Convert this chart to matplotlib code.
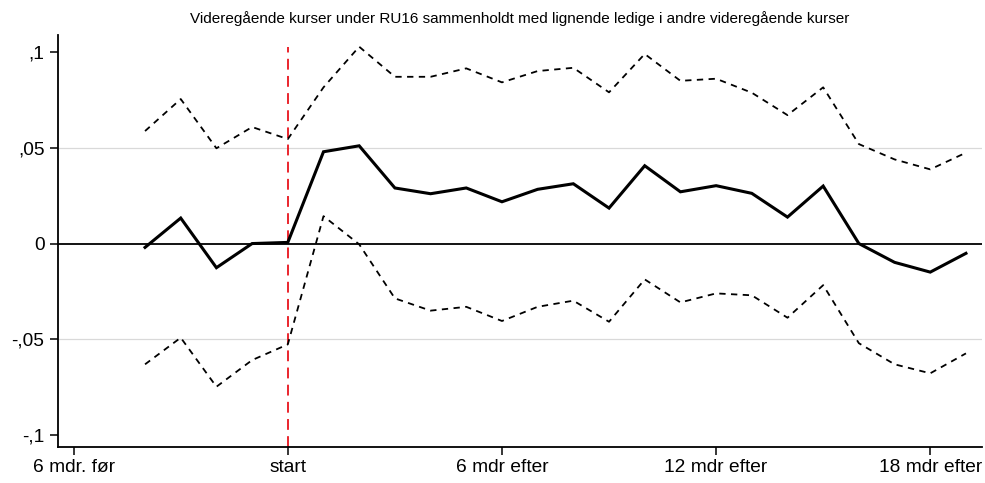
import matplotlib
matplotlib.use("Agg")
import matplotlib.pyplot as plt

months = list(range(-4, 20))
estimate = [-0.002, 0.0133, -0.0126, 0.0, 0.0006, 0.0479, 0.051, 0.029, 0.026, 0.029,
            0.0218, 0.0283, 0.0312, 0.0185, 0.0406, 0.027, 0.0302, 0.0262, 0.0138, 0.030,
            0.0, -0.0098, -0.0149, -0.0051]
upper = [0.0587, 0.0754, 0.0497, 0.0608, 0.0545, 0.0815, 0.1027, 0.087, 0.087, 0.0914,
         0.0841, 0.090, 0.0917, 0.0789, 0.0989, 0.0849, 0.086, 0.0787, 0.067, 0.0815,
         0.0519, 0.0439, 0.0387, 0.0474]
lower = [-0.063, -0.0491, -0.0747, -0.0608, -0.0526, 0.0143, -0.0004, -0.0286, -0.035, -0.033,
         -0.0404, -0.033, -0.0298, -0.0408, -0.0187, -0.0307, -0.026, -0.027, -0.0387, -0.0217,
         -0.052, -0.063, -0.0677, -0.0573]

xticks = [-6, 0, 6, 12, 18]
xticklabels = ["6 mdr. før", "start", "6 mdr efter", "12 mdr efter", "18 mdr efter"]
yticks = [-0.1, -0.05, 0, 0.05, 0.1]
yticklabels = ["-,1", "-,05", "0", ",05", ",1"]
title = "Videregående kurser under RU16 sammenholdt med lignende ledige i andre videregående kurser"

plt.rcParams['font.family'] = ['Liberation Sans', 'DejaVu Sans']

fig = plt.figure(figsize=(9.85, 4.83), dpi=100)
ax = fig.add_axes([0.0592, 0.0739, 0.9374, 0.8536])

for yv in [-0.05, 0.05]:
    ax.axhline(yv, color='#d9d9d9', lw=0.9, zorder=0)
ax.axhline(0, color='black', lw=1.3, zorder=1)
ax.axvline(0, color='#e8141c', lw=1.3, ls=(0, (6, 3.5)), ymax=0.97, zorder=2)

ax.plot(months, upper, color='black', lw=1.3, ls=(0, (3.5, 3)), zorder=3)
ax.plot(months, lower, color='black', lw=1.3, ls=(0, (3.5, 3)), zorder=3)
ax.plot(months, estimate, color='black', lw=2.2, zorder=4, solid_joinstyle='miter')

ax.set_xlim(-6.43, 19.44)
ax.set_ylim(-0.1063, 0.1088)
ax.set_xticks(xticks)
ax.set_xticklabels(xticklabels)
ax.set_yticks(yticks)
ax.set_yticklabels(yticklabels)
ax.tick_params(axis='both', labelsize=13.8, length=6, width=1.1, direction='out', colors='black')
ax.tick_params(axis='x', pad=2.5)
ax.tick_params(axis='y', pad=4)

for s in ['top', 'right']:
    ax.spines[s].set_visible(False)
for s in ['left', 'bottom']:
    ax.spines[s].set_linewidth(1.3)

fig.text(0.528, 0.962, title, ha='center', va='center', fontsize=11)

fig.savefig("out.png", dpi=100)
